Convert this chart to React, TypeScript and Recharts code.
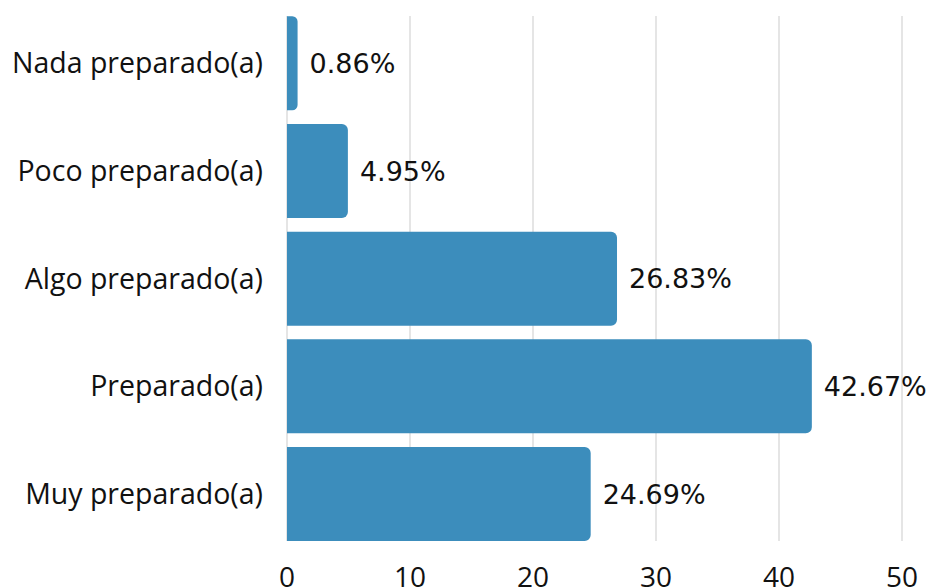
import React from "react";
import { BarChart, Bar, XAxis, YAxis, CartesianGrid, LabelList } from "recharts";

const categories = [
  "Nada preparado(a)",
  "Poco preparado(a)",
  "Algo preparado(a)",
  "Preparado(a)",
  "Muy preparado(a)",
];
const percentages = [0.86, 4.95, 26.83, 42.67, 24.69];
const xTicks = [0, 10, 20, 30, 40, 50];

const data = categories.map((name, i) => ({ name, value: percentages[i] }));

const LABEL_FONT = "'Open Sans', sans-serif";

export default function App() {
  return (
    <div style={{ position: "absolute", left: 0, top: 0, background: "#fff" }}>
      <BarChart
        width={938}
        height={588}
        data={data}
        layout="vertical"
        margin={{ top: 16, right: 36, bottom: 0, left: 0 }}
        barSize={94}
      >
        <CartesianGrid horizontal={false} stroke="#dddddd" strokeWidth={1.5} />
        <XAxis
          type="number"
          domain={[0, 50]}
          ticks={xTicks}
          axisLine={false}
          tickLine={false}
          tickMargin={20}
          height={47}
          tick={{ fontFamily: LABEL_FONT, fontSize: 28, fill: "#111" }}
        />
        <YAxis
          type="category"
          dataKey="name"
          width={287}
          axisLine={false}
          tickLine={false}
          tickMargin={18}
          padding={{ top: -6.8, bottom: -6.8 }}
          tick={{ fontFamily: LABEL_FONT, fontSize: 28.5, fill: "#111" }}
        />
        <Bar dataKey="value" fill="#3c8dbc" radius={[0, 6, 6, 0]} isAnimationActive={false}>
          <LabelList
            dataKey="value"
            position="right"
            offset={12}
            formatter={(v: number) => `${v.toFixed(2)}%`}
            style={{ fontFamily: "'DejaVu Sans', sans-serif", fontSize: 27, fill: "#111" }}
          />
        </Bar>
      </BarChart>
    </div>
  );
}
